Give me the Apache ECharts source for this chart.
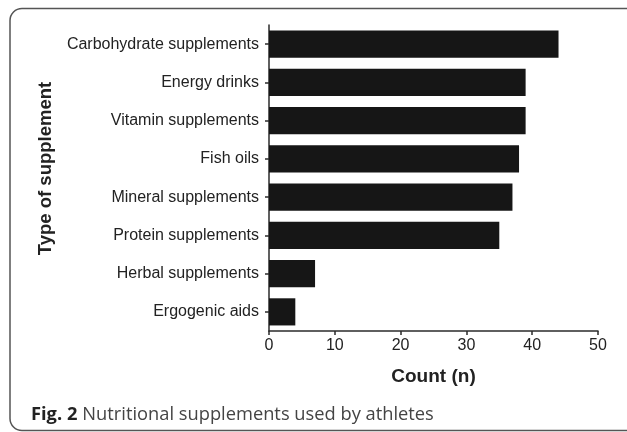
<!DOCTYPE html>
<html>
<head>
<meta charset="utf-8">
<script src="https://cdn.jsdelivr.net/npm/echarts@6/dist/echarts.min.js"></script>
<style>
  html, body { margin: 0; padding: 0; background: #fff; }
  #chart { width: 627px; height: 432px; }
</style>
</head>
<body>
<div id="chart"></div>
<script>
const categories = [
  "Carbohydrate supplements",
  "Energy drinks",
  "Vitamin supplements",
  "Fish oils",
  "Mineral supplements",
  "Protein supplements",
  "Herbal supplements",
  "Ergogenic aids",
];
const counts = [44, 39, 39, 38, 37, 35, 7, 4];
const xTicks = [0, 10, 20, 30, 40, 50];

const AXIS_COLOR = "#2b2b2b";
const TEXT_COLOR = "#222";
const SANS = "'Liberation Sans', Arial, Helvetica, sans-serif";

const chart = echarts.init(document.getElementById("chart"), null, { renderer: "canvas" });

chart.setOption({
  backgroundColor: "#fff",
  animation: false,
  title: {
    left: 26,
    top: 401,
    text: "{b|Fig. 2} {n|Nutritional supplements used by athletes}",
    textStyle: {
      fontWeight: "normal",
      rich: {
        b: { fontFamily: "'Open Sans', sans-serif", fontWeight: "bold", fontSize: 18.3, color: "#222" },
        n: { fontFamily: "'Open Sans', sans-serif", fontWeight: "normal", fontSize: 18.3, color: "#444" },
      },
    },
  },
  graphic: [
    {
      type: "rect",
      silent: true,
      shape: { x: 10, y: 8.5, width: 640, height: 422, r: 12 },
      style: { fill: null, stroke: "#555", lineWidth: 1.5 },
    },
  ],
  grid: { left: 269, right: 29, top: 25, bottom: 101, containLabel: false },
  xAxis: {
    type: "value",
    min: 0,
    max: 50,
    interval: 10,
    name: "Count (n)",
    nameLocation: "middle",
    nameGap: 36,
    nameTextStyle: { fontFamily: SANS, fontWeight: "bold", fontSize: 19, color: TEXT_COLOR },
    axisLine: { show: true, lineStyle: { color: AXIS_COLOR, width: 1.5 } },
    axisTick: { show: true, length: 4, lineStyle: { color: AXIS_COLOR, width: 1.5 } },
    axisLabel: {
      margin: 7,
      fontFamily: SANS,
      fontSize: 16,
      color: TEXT_COLOR,
      formatter: (v) => (xTicks.includes(v) ? String(v) : ""),
    },
    splitLine: { show: false },
  },
  yAxis: {
    type: "category",
    inverse: true,
    data: categories,
    name: "Type of supplement",
    nameLocation: "middle",
    nameGap: 214,
    nameTextStyle: {
      fontFamily: SANS,
      fontWeight: "bold",
      fontSize: 18.5,
      color: TEXT_COLOR,
      padding: [0, 0, 0, 19],
    },
    axisLine: { show: true, lineStyle: { color: AXIS_COLOR, width: 1.5 } },
    axisTick: { show: true, alignWithLabel: true, length: 4, lineStyle: { color: AXIS_COLOR, width: 1.5 } },
    axisLabel: { margin: 10, fontFamily: SANS, fontSize: 16, color: TEXT_COLOR },
    splitLine: { show: false },
  },
  series: [
    {
      type: "bar",
      data: counts,
      barCategoryGap: "29%",
      itemStyle: { color: "#161616" },
    },
  ],
});
</script>
</body>
</html>
